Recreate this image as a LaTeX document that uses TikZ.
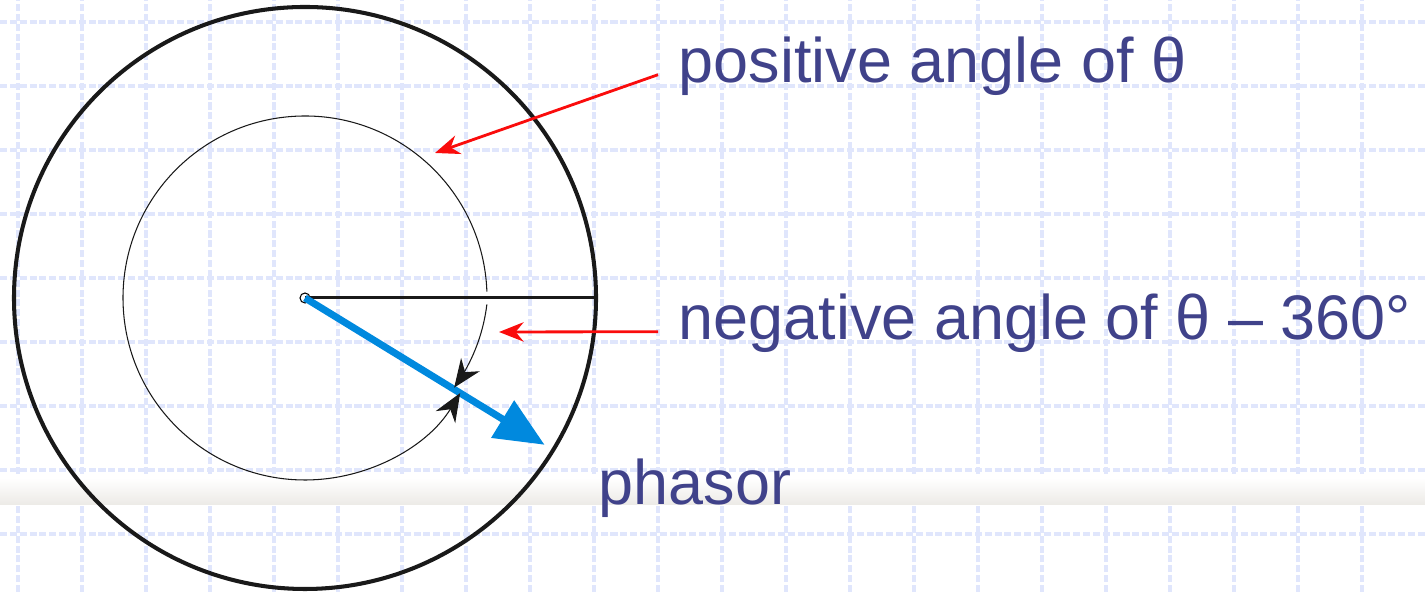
\documentclass[tikz,border=0pt]{standalone}
\usepackage{fontspec}
\setmainfont{Liberation Sans}
\usetikzlibrary{arrows.meta, positioning, calc}
\definecolor{gridblue}{RGB}{224,230,252}
\definecolor{labelblue}{RGB}{64,66,138}
\definecolor{phasorblue}{RGB}{0,137,222}
\definecolor{bandgray}{RGB}{236,234,230}
\definecolor{accentred}{RGB}{250,12,12}
\tikzset{
  gridline/.style={draw=gridblue, line width=0.9pt, dash pattern=on 2pt off 0.8pt},
  labeltext/.style={anchor=base west, inner xsep=0.2cm, inner ysep=0pt, text=labelblue,
    font=\fontsize{17.9}{20}\selectfont},
  outercircle/.style={draw=black!90, line width=1.15pt},
  refline/.style={draw=black!90, line width=0.85pt},
  anglearc/.style={draw=black!90, line width=0.3pt, -{Stealth[length=8pt,width=6.5pt]}},
  phasorarrow/.style={draw=phasorblue, line width=2pt, -{Triangle[length=14pt,width=12pt]}},
  redarrow/.style={draw=accentred, line width=0.8pt, -{Stealth[length=7pt,width=5.5pt]}}
}
\begin{document}
\begin{tikzpicture}[x=0.01cm, y=0.01cm]
  \useasboundingbox (0,0) rectangle (1425,592);
  % background grid and band
  \foreach \gx in {18,82,...,1425} \draw[gridline] (\gx,0) -- (\gx,592);
  \foreach \gy in {58,122,...,570} \draw[gridline] (0,\gy) -- (1425,\gy);
  \shade[top color=white, bottom color=bandgray] (0,87) rectangle (1425,114);

  \coordinate (o) at (305,294);
  \draw[outercircle] (o) circle[radius=291];
  \node[circle, draw, fill=white, inner sep=0pt, minimum size=0.1cm, line width=0.3pt] (c) at (o) {};
  \draw[refline] (o) -- ++(0:291) coordinate (ref);
  \draw[phasorarrow] (o) -- ++(-31.5:281) coordinate (tip);

  % angle arcs
  \draw[anglearc] ($(o)+(2:182)$) arc[start angle=2, end angle=328.5, radius=182];
  \draw[anglearc, shift={(o)}] plot[domain=-2:-31, samples=20]
    ({(182+(\x+2)*0.276)*cos(\x)},{(182+(\x+2)*0.276)*sin(\x)});

  \node[labeltext] (postext) at (658,509) {positive angle of θ};
  \node[labeltext] (negtext) at (658,252) {negative angle of θ – 360°};
  \node[labeltext] (phtext) at (578,87) {phasor};
  \coordinate (posend) at (435,439);
  \coordinate (negend) at (499,260);
  \draw[redarrow] ([yshift=-0.08cm]postext.west) -- (posend);
  \draw[redarrow] ([yshift=-0.08cm]negtext.west) -- (negend);
\end{tikzpicture}
\end{document}
